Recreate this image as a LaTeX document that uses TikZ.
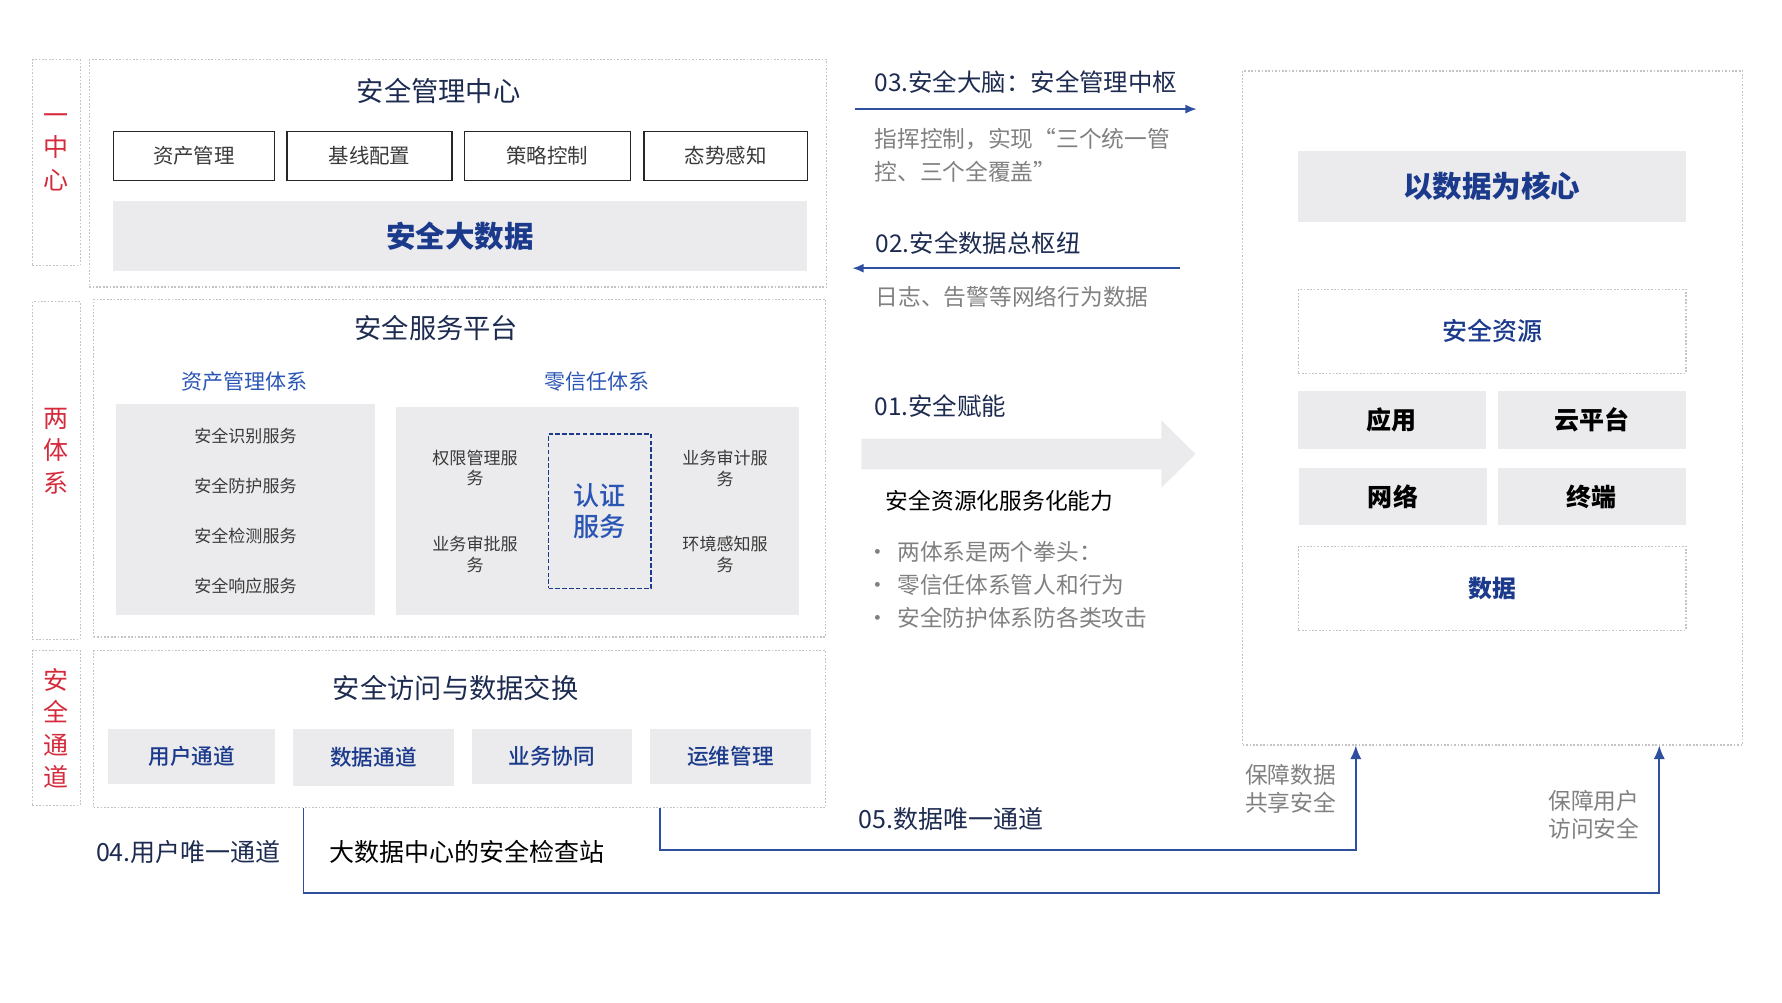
\documentclass[tikz,border=0pt]{standalone}
\usepackage{fontspec}
\setmainfont{Noto Sans CJK SC}
\IfFontExistsTF{Noto Sans CJK SC Medium}
  {\newfontfamily\medfont{Noto Sans CJK SC Medium}}
  {\newcommand\medfont{\bfseries}}
\usetikzlibrary{arrows.meta,
                positioning}
\definecolor{navy}{HTML}{1D2B50}
\definecolor{deepblue}{HTML}{1B3A8C}
\definecolor{midblue}{HTML}{2B55B5}
\definecolor{linkblue}{HTML}{2E4E9E}
\definecolor{redlbl}{HTML}{D42A3C}
\definecolor{fillgray}{HTML}{EBEBED}
\definecolor{dotgray}{HTML}{C4C4C4}
\definecolor{txtgray}{HTML}{808080}
\definecolor{darktxt}{HTML}{3A3A3A}

\begin{document}
\begin{tikzpicture}%
            [x = 1pt, y = -1pt,
             box/.style = {anchor = north west, inner sep = 0pt, align = center},
             dotbox/.style = {box, draw = dotgray, line width = 1pt, dash pattern = on 1.5pt off 1.5pt},
             graybox/.style = {box, fill = fillgray},
             linebox/.style = {box, draw = black!85, line width = 1.3pt, text = darktxt,
                               font = \fontsize{18}{22}\selectfont},
             ttl/.style = {text = navy, font = \fontsize{24}{28}\selectfont},
             redtxt/.style = {text = redlbl, align = center, font = \fontsize{22}{28.5}\selectfont},
             subttl/.style = {text = midblue, font = \fontsize{18.5}{22}\selectfont},
             svc/.style = {text = darktxt, align = center, font = \fontsize{15}{18}\selectfont},
             chan/.style = {graybox, text = deepblue, font = \medfont\fontsize{19}{22}\selectfont},
             res/.style = {graybox, text = black, font = \bfseries\fontsize{22}{26}\selectfont},
             head/.style = {anchor = west, text = navy, font = \fontsize{21.5}{26}\selectfont},
             note/.style = {anchor = west, text = txtgray, align = left, font = \fontsize{20}{29}\selectfont},
             link/.style = {draw = linkblue, line width = 1.5pt},
             tip/.style = {-{Latex[length = 12pt, width = 10pt]}}]
            \useasboundingbox (0,0) rectangle (1568,882);

            \node [dotbox, minimum width = 42pt, minimum height = 181pt] (l1) at (28,52) {};
            \node [redtxt] at (49,134) {一\\中\\心};
            \node [dotbox, minimum width = 42pt, minimum height = 297pt] (l2) at (28,265) {};
            \node [redtxt] at (49,397) {两\\体\\系};
            \node [dotbox, minimum width = 42pt, minimum height = 136pt] (l3) at (28,572) {};
            \node [redtxt] at (49,641) {安\\全\\通\\道};

            \node [dotbox, minimum width = 649pt, minimum height = 200pt] (mgmt) at (78,52) {};
            \node [ttl] (mgmtt) at (386,80) {安全管理中心};
            \node [linebox, minimum width = 142pt, minimum height = 43pt] (asset) at (99,115) {资产管理};
            \node [linebox, minimum width = 145pt, minimum height = 43pt] (base) at (252,115) {基线配置};
            \node [linebox, minimum width = 146pt, minimum height = 43pt] (policy) at (408,115) {策略控制};
            \node [linebox, minimum width = 144pt, minimum height = 43pt] (sense) at (566,115) {态势感知};
            \node [graybox, minimum width = 611pt, minimum height = 61pt, text = deepblue,
                   font = \bfseries\fontsize{26}{30}\selectfont] (bigdata) at (99,177) {安全大数据};

            \node [dotbox, minimum width = 644pt, minimum height = 297pt] (svcp) at (82,263) {};
            \node [ttl] (svct) at (384,289) {安全服务平台};
            \node [subttl] (assett) at (215,336) {资产管理体系};
            \node [subttl] (zerot) at (525,336) {零信任体系};
            \node [graybox, minimum width = 228pt, minimum height = 186pt] (assetbox) at (102,355) {};
            \node [svc] (s1) at (216,384) {安全识别服务};
            \node [svc] (s2) at (216,428) {安全防护服务};
            \node [svc] (s3) at (216,472) {安全检测服务};
            \node [svc] (s4) at (216,516) {安全响应服务};
            \node [graybox, minimum width = 355pt, minimum height = 183pt] (zerobox) at (348,358) {};
            \node [box, draw = deepblue, line width = 1.5pt, dash pattern = on 4pt off 2pt,
                   minimum width = 90pt, minimum height = 136pt,
                   text = midblue, font = \medfont\fontsize{23}{27}\selectfont] (auth) at (482,381) {认证\\服务};
            \node [svc] (z1) at (418,412) {权限管理服\\务};
            \node [svc] (z2) at (418,488) {业务审批服\\务};
            \node [svc] (z3) at (638,412) {业务审计服\\务};
            \node [svc] (z4) at (638,488) {环境感知服\\务};

            \node [dotbox, minimum width = 644pt, minimum height = 138pt] (access) at (82,572) {};
            \node [ttl] (accesst) at (401,605) {安全访问与数据交换};
            \node [chan, minimum width = 147pt, minimum height = 49pt] (user) at (95,641) {用户通道};
            \node [chan, minimum width = 141pt, minimum height = 50pt] (datac) at (258,641) {数据通道};
            \node [chan, minimum width = 141pt, minimum height = 49pt] (coop) at (415,641) {业务协同};
            \node [chan, minimum width = 141pt, minimum height = 49pt] (ops) at (572,641) {运维管理};

            \node [head] (t03) at (766,72) {03.安全大脑：安全管理中枢};
            \coordinate (a3s) at (752,96);
            \coordinate (a3e) at (1053,96);
            \draw [link, -{Latex[length = 10pt, width = 8pt]}] (a3s) -- (a3e);
            \node [note] (d03) at (766,136.5) {指挥控制，实现“三个统一管\\控、三个全覆盖”};

            \node [head] (t02) at (767,214) {02.安全数据总枢纽};
            \coordinate (a2s) at (1038,236);
            \coordinate (a2e) at (750,236);
            \draw [link, -{Latex[length = 10pt, width = 8pt]}] (a2s) -- (a2e);
            \node [note] (d02) at (767,261) {日志、告警等网络行为数据};

            \node [head] (t01) at (766,357) {01.安全赋能};
            \fill [fillgray] (758,386) -- (1022,386) -- (1022,370) -- (1052,399.5)
                             -- (1022,429) -- (1022,413) -- (758,413) -- cycle;
            \node [note, text = black] (d01) at (776,441) {安全资源化服务化能力};
            \node [note] (b1) at (759,486) {\makebox[27pt][l]{•}两体系是两个拳头：};
            \node [note] (b2) at (759,515) {\makebox[27pt][l]{•}零信任体系管人和行为};
            \node [note] (b3) at (759,544) {\makebox[27pt][l]{•}安全防护体系防各类攻击};

            \node [dotbox, minimum width = 440pt, minimum height = 593pt] (core) at (1093,62) {};
            \node [graybox, minimum width = 341pt, minimum height = 62pt, text = deepblue,
                   font = \bfseries\fontsize{26}{30}\selectfont] (hexin) at (1142,133) {以数据为核心};
            \node [dotbox, minimum width = 341pt, minimum height = 74pt, text = deepblue,
                   font = \medfont\fontsize{22}{26}\selectfont] (srcs) at (1142,254) {安全资源};
            \node [res, minimum width = 165pt, minimum height = 51pt] (app) at (1142,344) {应用};
            \node [res, minimum width = 165pt, minimum height = 51pt] (cloud) at (1318,344) {云平台};
            \node [res, minimum width = 165pt, minimum height = 50pt] (net) at (1143,412) {网络};
            \node [res, minimum width = 165pt, minimum height = 50pt] (term) at (1318,412) {终端};
            \node [dotbox, minimum width = 341pt, minimum height = 74pt, text = deepblue,
                   font = \bfseries\fontsize{21}{26}\selectfont] (data) at (1142,480) {数据};

            \node [note, font = \fontsize{20}{24}\selectfont] (g05) at (1092,694) {保障数据\\共享安全};
            \node [note, font = \fontsize{20}{24}\selectfont] (g04) at (1359,717) {保障用户\\访问安全};

            \coordinate (p04) at (267,711);
            \coordinate (e04) at (1460,656);
            \draw [link, tip] (p04) -- ++(0,75) -| (e04);
            \coordinate (p05) at (581,711);
            \coordinate (e05) at (1193,656);
            \draw [link, tip] (p05) -- ++(0,37) -| (e05);

            \node [head, font = \fontsize{22}{26}\selectfont] (t04) at (81,750) {04.用户唯一通道};
            \node [head, text = black, font = \fontsize{22}{26}\selectfont] (check) at (286,750) {大数据中心的安全检查站};
            \node [head, font = \fontsize{22}{26}\selectfont] (t05) at (752,721) {05.数据唯一通道};
        \end{tikzpicture}
\end{document}
